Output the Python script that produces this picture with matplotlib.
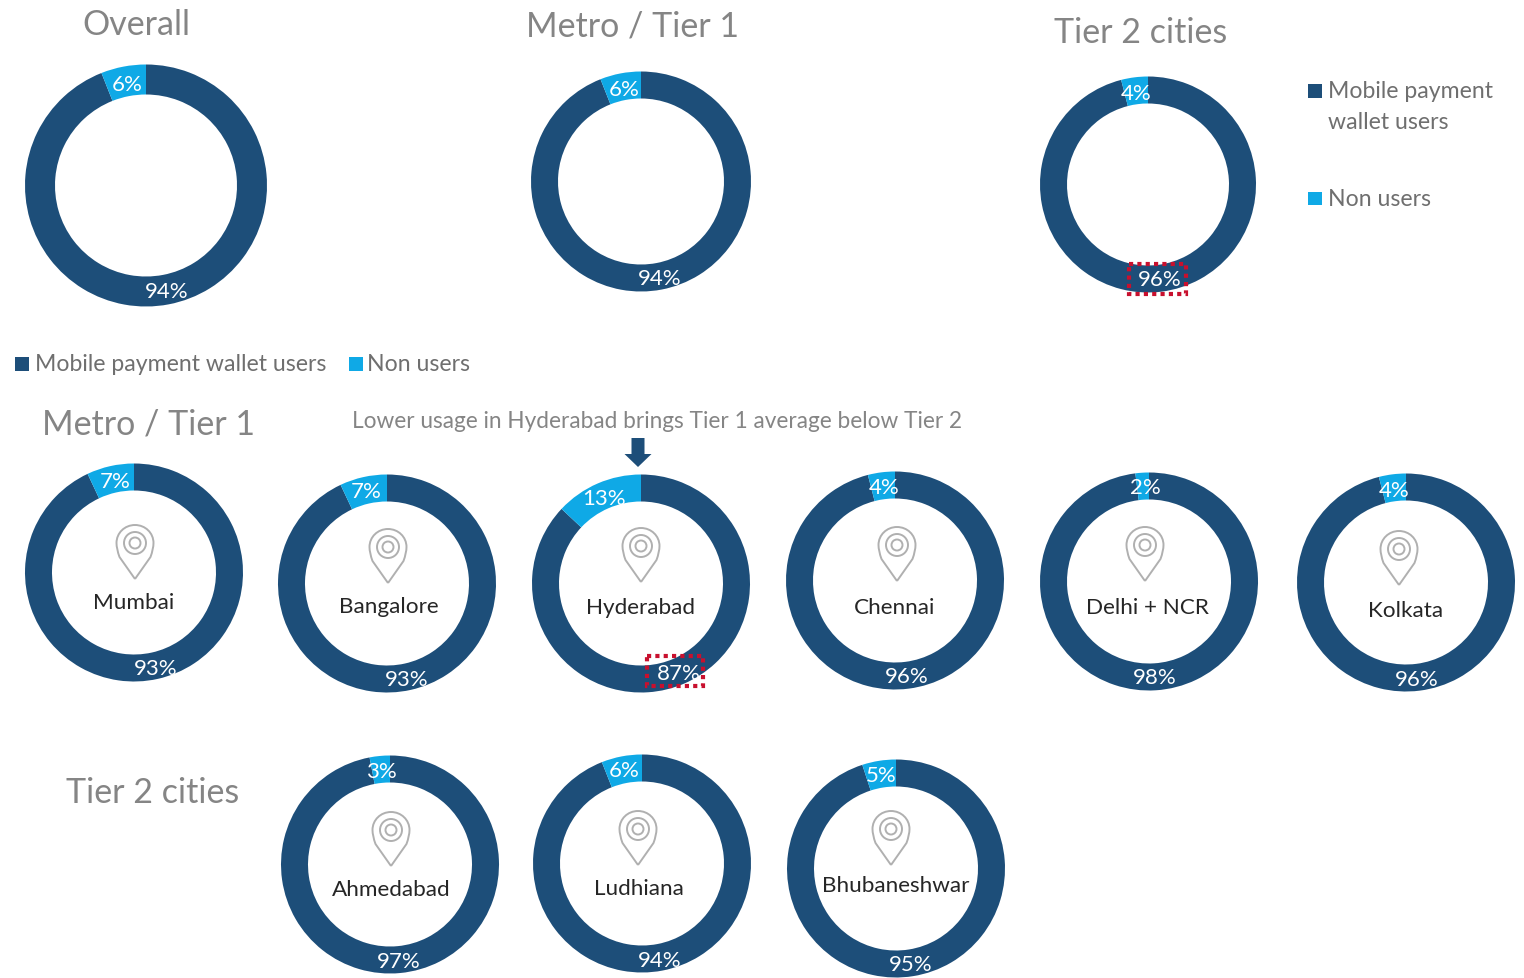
import matplotlib
matplotlib.use("Agg")
import matplotlib.pyplot as plt
from matplotlib.patches import Circle, FancyArrow, PathPatch, Rectangle
from matplotlib.path import Path

plt.rcParams['font.family'] = ['Lato', 'DejaVu Sans']

# ---- data ----
group_names = ["Overall", "Metro / Tier 1", "Tier 2 cities"]
group_users = [94, 94, 96]
group_non = [6, 6, 4]

metro_cities = ["Mumbai", "Bangalore", "Hyderabad", "Chennai", "Delhi + NCR", "Kolkata"]
metro_users = [93, 93, 87, 96, 98, 96]
metro_non = [7, 7, 13, 4, 2, 4]

tier2_cities = ["Ahmedabad", "Ludhiana", "Bhubaneshwar"]
tier2_users = [97, 94, 95]
tier2_non = [3, 6, 5]

series_names = ["Mobile payment wallet users", "Non users"]
series_names_wrapped = ["Mobile payment\nwallet users", "Non users"]
note = "Lower usage in Hyderabad brings Tier 1 average below Tier 2"

# ---- style and layout (pixels in the 1524x979 picture) ----
W, H = 1524, 979
DARK, LIGHT = "#1d4e79", "#0fa9e6"
GREY = "#858585"
LEGEND_GREY = "#6f6f6f"
TEXT_DY = 2
DONUT_DY = 1.5

group_layout = [(146, 185, 121, 91), (641, 181, 110, 83), (1148, 184, 108, 81)]
group_title_xy = [(136, 23), (633, 25), (1141, 31)]
group_user_lab = [(167, 290), (660, 277), (1160, 278)]
group_non_lab = [(127, 83), (624, 88), (1136, 92)]

metro_layout = [(134, 572), (387, 583), (641, 583), (895, 580), (1149, 581), (1406, 582)]
metro_name_y = [601, 605, 606, 606, 606, 609]
metro_name_x = [134, 389, 640, 895, 1147, 1406]
metro_pin = [(135, 526), (388, 530), (641, 529), (897, 528), (1145, 528), (1399, 532)]
metro_user_lab = [(156, 667), (407, 678), (679, 672), (907, 675), (1155, 676), (1417, 678)]
metro_non_lab = [(115, 480), (366, 490), (604, 497), (884, 486), (1145, 486), (1394, 489)]

tier2_layout = [(390, 864), (642, 863), (896, 868)]
tier2_name_y = [888, 887, 884]
tier2_name_x = [391, 639, 896]
tier2_pin = [(391, 813), (638, 812), (891, 812)]
tier2_user_lab = [(399, 960), (660, 959), (911, 963)]
tier2_non_lab = [(381, 770), (624, 769), (881, 774)]

CITY_R, CITY_IN = 109, 82

fig = plt.figure(figsize=(W / 100, H / 100), dpi=100, facecolor="white")


def donut(cx, cy, r, r_in, users, non):
    cy = cy + DONUT_DY
    ax = fig.add_axes([(cx - r) / W, 1 - (cy + r) / H, 2 * r / W, 2 * r / H])
    wedges, _ = ax.pie([users, non], colors=[DARK, LIGHT], startangle=90,
                       counterclock=False, radius=1,
                       wedgeprops=dict(width=1 - r_in / r, linewidth=0))
    ax.set_xlim(-1, 1)
    ax.set_ylim(-1, 1)
    ax.set_aspect("equal")
    ax.axis("off")
    return wedges


for (cx, cy, r, ri), u, n in zip(group_layout, group_users, group_non):
    donut(cx, cy, r, ri, u, n)
for (cx, cy), u, n in zip(metro_layout, metro_users, metro_non):
    donut(cx, cy, CITY_R, CITY_IN, u, n)
for (cx, cy), u, n in zip(tier2_layout, tier2_users, tier2_non):
    donut(cx, cy, CITY_R, CITY_IN, u, n)

# overlay in picture pixels for text and annotations
ov = fig.add_axes([0, 0, 1, 1], facecolor="none", zorder=5)
ov.set_xlim(0, W)
ov.set_ylim(H, 0)
ov.axis("off")


def label(x, y, s, color, size, ha="center", **kw):
    return ov.text(x, y + TEXT_DY, s, color=color, fontsize=size, ha=ha, va="center", **kw)


def pct(xy, v):
    label(xy[0], xy[1], f"{v}%", "white", 16)


def pin(x, top):
    """Location pin outline with concentric rings."""
    hw, cy, bottom = 18.5, top + 18, top + 54
    k = hw
    verts = [(x, bottom), (x - hw + 3, cy + 14), (x - hw, cy + 6), (x - hw, cy),
             (x - hw, cy - k * 0.55), (x - k * 0.55, top), (x, top),
             (x + k * 0.55, top), (x + hw, cy - k * 0.55), (x + hw, cy),
             (x + hw, cy + 6), (x + hw - 3, cy + 14), (x, bottom)]
    codes = [Path.MOVETO, Path.LINETO, Path.CURVE3, Path.CURVE3,
             Path.CURVE4, Path.CURVE4, Path.CURVE4,
             Path.CURVE4, Path.CURVE4, Path.CURVE4,
             Path.CURVE3, Path.CURVE3, Path.LINETO]
    ov.add_patch(PathPatch(Path(verts, codes), fc="none", ec="#b0b0b0", lw=1.4))
    for rad in (11, 5.5):
        ov.add_patch(Circle((x, cy), rad, fc="none", ec="#b0b0b0", lw=1.4))


def swatch(x, y, color):
    ov.add_patch(Rectangle((x, y), 13.5, 13.5, fc=color, ec="none"))


for name, xy, u, n, ul, nl in zip(group_names, group_title_xy, group_users,
                                  group_non, group_user_lab, group_non_lab):
    label(xy[0], xy[1], name, GREY, 24.5)
    pct(ul, u)
    pct(nl, n)

for i, name in enumerate(metro_cities):
    label(metro_name_x[i], metro_name_y[i], name, "#262626", 16.2)
    pin(*metro_pin[i])
    pct(metro_user_lab[i], metro_users[i])
    pct(metro_non_lab[i], metro_non[i])

for i, name in enumerate(tier2_cities):
    label(tier2_name_x[i], tier2_name_y[i], name, "#262626", 16.2)
    pin(*tier2_pin[i])
    pct(tier2_user_lab[i], tier2_users[i])
    pct(tier2_non_lab[i], tier2_non[i])

label(148, 423, group_names[1], GREY, 24.5)
label(153, 791, group_names[2], GREY, 24.5)
label(657, 420, note, GREY, 16.3)

ov.add_patch(FancyArrow(638, 439, 0, 29, width=13, head_width=27, head_length=13,
                        length_includes_head=True, fc=DARK, ec="none"))

for x0, y0, x1, y1 in [(1129, 265, 1186, 295), (647, 657, 703, 687)]:
    ov.add_patch(Rectangle((x0, y0), x1 - x0, y1 - y0, fc="none", ec="#c8102e",
                           lw=3, ls=(0, (1, 1))))

# legend under the top row
swatch(15, 358, DARK)
label(35, 363, series_names[0], LEGEND_GREY, 16.6, ha="left")
swatch(349, 358, LIGHT)
label(367, 363, series_names[1], LEGEND_GREY, 16.6, ha="left")

# legend at top right
swatch(1308, 85, DARK)
first, second = series_names_wrapped[0].split("\n")
label(1328, 89.5, first, LEGEND_GREY, 16.6, ha="left")
label(1328, 120.5, second, LEGEND_GREY, 16.6, ha="left")
swatch(1308, 192.5, LIGHT)
label(1328, 198, series_names_wrapped[1], LEGEND_GREY, 16.6, ha="left")

fig.savefig("out.png", dpi=100, facecolor="white")
